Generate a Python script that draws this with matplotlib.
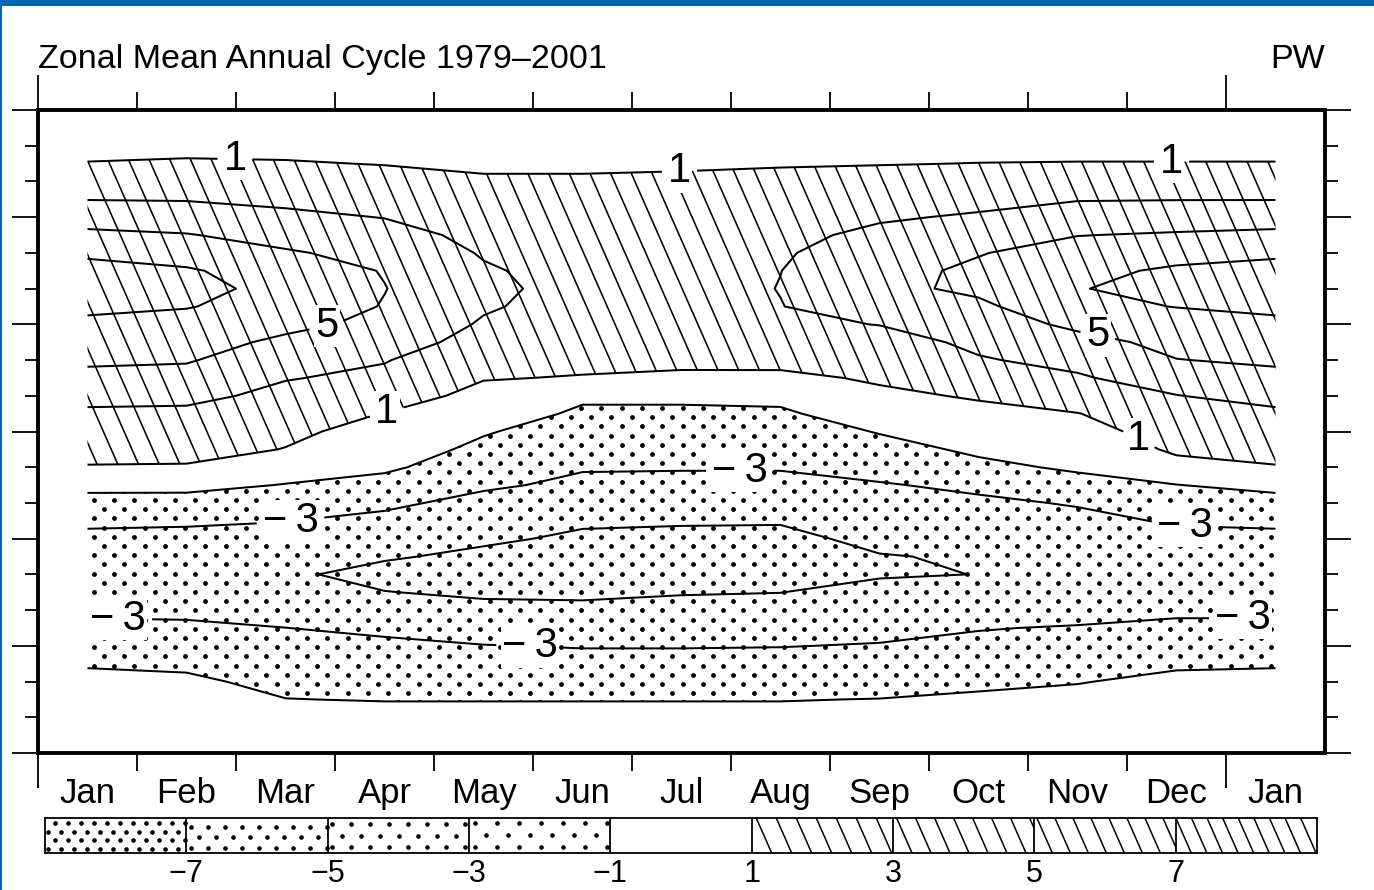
import numpy as np
import matplotlib
matplotlib.use("Agg")
import matplotlib.pyplot as plt
from matplotlib.patches import PathPatch, Rectangle
from matplotlib.collections import LineCollection

plt.rcParams['font.family'] = ['Liberation Sans', 'DejaVu Sans']
plt.rcParams['contour.negative_linestyle'] = 'solid'

# zonal mean transport (PW), mid-month columns, latitude 90N -> 90S every 5 deg
lats = np.arange(90, -91, -5)
jan = [0, 0.3, 0.6, 1.05, 2.0, 2.95, 4.2, 5.4, 6.6, 7.8, 8.2, 7.6, 6.4, 5.9, 5.3, 4.5, 3.7, 2.6, 2.0,
       1.6, 0.9, -0.3, -1.9, -2.6, -3.5, -4.0, -4.3, -4.1, -3.5, -2.4, -1.8, -1.1, -0.7, -0.4, -0.2, -0.1, 0]
feb = [0, 0.3, 0.65, 1.15, 2.1, 2.9, 3.95, 5.1, 6.2, 7.2, 7.5, 7.1, 6.3, 5.8, 5.15, 4.4, 3.5, 2.6, 2.0,
       1.6, 0.85, -0.3, -1.95, -2.7, -3.6, -4.1, -4.4, -4.2, -3.6, -2.5, -1.9, -1.2, -0.8, -0.45, -0.25, -0.1, 0]
mar = [0, 0.3, 0.6, 1.1, 1.9, 2.6, 3.4, 4.3, 5.2, 6.1, 6.5, 6.2, 5.5, 4.6, 3.9, 3.1, 2.5, 1.9, 1.35,
       0.95, 0.2, -1.1, -2.1, -2.95, -3.7, -4.3, -4.7, -4.6, -4.0, -2.98, -2.3, -1.7, -1.3, -0.98, -0.6, -0.3, 0]
apr = [0, 0.3, 0.6, 0.95, 1.5, 2.2, 2.95, 3.7, 4.4, 4.9, 5.05, 4.9, 4.5, 3.9, 3.1, 2.6, 1.9, 0.95, 0.4,
       -0.1, -0.7, -1.6, -2.6, -3.5, -4.1, -4.8, -5.6, -4.95, -4.3, -3.5, -2.5, -1.9, -1.5, -1.05, -0.6, -0.3, 0]
may = [0, 0.25, 0.5, 0.8, 1.15, 1.6, 2.1, 2.5, 2.85, 3.2, 3.4, 3.2, 2.8, 2.3, 1.7, 1.1, 0.45, -0.2, -0.85,
       -1.4, -2.0, -2.7, -3.6, -4.2, -4.7, -5.4, -5.8, -5.3, -4.5, -3.7, -2.95, -2.2, -1.6, -1.05, -0.6, -0.3, 0]
jun = [0, 0.25, 0.5, 0.8, 1.15, 1.5, 1.8, 2.05, 2.25, 2.35, 2.4, 2.3, 2.1, 1.8, 1.45, 0.9, -0.75, -1.25, -1.85,
       -2.4, -2.85, -3.4, -4.0, -4.75, -5.3, -5.9, -6.0, -5.5, -4.4, -3.6, -3.1, -2.4, -1.7, -1.05, -0.6, -0.3, 0]
jul = [0, 0.25, 0.5, 0.85, 1.2, 1.5, 1.75, 1.95, 2.1, 2.2, 2.2, 2.1, 1.95, 1.75, 1.35, 0.72, -0.6, -1.4, -1.95,
       -2.45, -2.9, -3.4, -4.0, -4.8, -5.5, -5.95, -6.0, -5.1, -4.5, -3.7, -3.1, -2.4, -1.7, -1.05, -0.6, -0.3, 0]
aug = [0, 0.3, 0.55, 0.9, 1.35, 1.8, 2.2, 2.55, 2.8, 2.98, 3.05, 2.95, 2.6, 2.1, 1.45, 0.65, -0.5, -1.3, -1.9,
       -2.4, -2.9, -3.4, -4.0, -4.85, -5.5, -5.85, -5.9, -5.02, -4.4, -3.7, -3.05, -2.4, -1.7, -1.05, -0.6, -0.3, 0]
sep = [0, 0.3, 0.6, 0.95, 1.5, 2.2, 2.8, 3.4, 4.0, 4.4, 4.5, 4.1, 3.05, 2.2, 1.7, 1.2, 0.7, 0.1, -0.9,
       -1.6, -2.3, -3.15, -3.6, -4.0, -4.5, -5.1, -5.15, -4.5, -4.0, -3.5, -2.9, -2.3, -1.6, -0.97, -0.6, -0.3, 0]
octo = [0, 0.3, 0.6, 1.02, 1.75, 2.5, 3.2, 4.0, 4.9, 5.35, 5.4, 4.6, 3.9, 3.4, 2.85, 2.1, 1.15, 0.6, -0.1,
        -0.7, -1.4, -2.6, -3.35, -3.9, -4.4, -4.8, -4.98, -4.7, -4.0, -3.1, -2.5, -1.8, -1.25, -0.8, -0.5, -0.25, 0]
nov = [0, 0.3, 0.6, 1.05, 2.0, 2.9, 3.9, 4.95, 5.8, 6.5, 6.9, 6.5, 5.45, 4.3, 3.5, 2.8, 2.0, 0.95, 0.4,
       -0.15, -0.75, -1.6, -2.85, -3.5, -3.9, -4.3, -4.5, -4.3, -3.8, -2.85, -2.1, -1.5, -1.05, -0.7, -0.4, -0.2, 0]
dec = [0, 0.3, 0.6, 1.05, 2.05, 2.95, 4.0, 5.2, 6.3, 7.3, 7.7, 7.05, 6.2, 5.6, 4.95, 3.9, 2.95, 2.2, 1.7,
       1.25, 0.5, -1.05, -1.9, -2.8, -3.5, -4.0, -4.3, -4.1, -3.5, -2.4, -1.8, -1.15, -0.75, -0.4, -0.2, -0.1, 0]

months = ['Jan', 'Feb', 'Mar', 'Apr', 'May', 'Jun', 'Jul', 'Aug', 'Sep', 'Oct', 'Nov', 'Dec', 'Jan']
line_levels = [-7, -5, -3, -1, 1, 3, 5, 7]
band_edges = [-9, -7, -5, -3, -1, 1, 3, 5, 7, 9]
cbar_ticks = [-7, -5, -3, -1, 1, 3, 5, 7]
# where the inline labels sit (month, latitude)
label_spots = [(1.99, 76.0), (6.48, 71.8), (11.45, 74.6), (3.51, 6.8), (11.08, -4.4),
               (2.90, 31.8), (10.70, 26.2),
               (2.55, -24.8), (7.09, -10.8), (11.59, -25.6), (0.81, -52.2), (4.97, -60.6), (12.17, -51.9)]


def minus(v):
    return f'{v:.0f}'.replace('-', '\u2212')


def minus_spaced(v):
    return f'{v:.0f}'.replace('-', '\u2212\u2009')


month_pos = np.arange(13) + 0.5
Z = np.column_stack([jan, feb, mar, apr, may, jun, jul, aug, sep, octo, nov, dec, jan])
X, Y = np.meshgrid(month_pos, lats)

W, H = 1374, 890
fig = plt.figure(figsize=(W / 100, H / 100), dpi=100)
ax = fig.add_axes([38 / W, 1 - 753 / H, 1287 / W, 643 / H])
ax.set_xlim(0, 13)
ax.set_ylim(-90, 90)

mx = 1287 / 13   # px per month
my = 643 / 180   # px per degree


def hatch_lines(x0, x1, y0, y1, step_px, mx, my):
    k = 2.27 * mx / my          # steep backslash lines
    span = (y1 - y0) / k
    segs = []
    for c in np.arange(x0 - span, x1 + step_px / mx, step_px / mx):
        segs.append([(c, y1), (c + span, y0)])
    return segs


def dot_grid(x0, x1, y0, y1, dx_px, dy_px, mx, my):
    px, py = [], []
    for i, yv in enumerate(np.arange(y0 + dy_px / my / 2, y1, dy_px / my)):
        xs = np.arange(x0 + (i % 2) * dx_px / mx / 2 + dx_px / mx / 4, x1, dx_px / mx)
        px.extend(xs)
        py.extend([yv] * len(xs))
    return np.array(px), np.array(py)


pos = ax.contourf(X, Y, Z, levels=[1, 50], colors='none')
neg = ax.contourf(X, Y, Z, levels=[-50, -1], colors='none')
pos_patch = PathPatch(pos.get_paths()[0], transform=ax.transData)
neg_patch = PathPatch(neg.get_paths()[0], transform=ax.transData)

hatch = LineCollection(hatch_lines(0, 13, -90, 90, 20.7, mx, my), colors='black',
                       linewidths=1.15, zorder=1)
ax.add_collection(hatch)
hatch.set_clip_path(pos_patch)

dx, dy = dot_grid(0, 13, -90, 90, 20.3, 9.2, mx, my)
dots = ax.scatter(dx, dy, s=12, c='black', linewidths=0, zorder=1)
dots.set_clip_path(neg_patch)

cl = ax.contour(X, Y, Z, levels=line_levels, colors='black', linewidths=1.45, zorder=2)
texts = ax.clabel(cl, manual=label_spots, fmt=minus_spaced,
                  fontsize=30, inline=True, inline_spacing=6)
for t in texts:
    t.set_rotation(0)
    t.set_bbox(dict(facecolor='white', edgecolor='none', pad=1))
    t.set_zorder(3)

for s in ax.spines.values():
    s.set_linewidth(2.8)
ax.set_xticks([0, 12])
ax.set_xticks(range(1, 12), minor=True)
ax.set_yticks(range(-90, 91, 30))
ax.set_yticks(range(-90, 91, 10), minor=True)
ax.tick_params(which='both', direction='out', top=True, right=True,
               labelbottom=False, labelleft=False, width=1.3, color='black')
ax.tick_params(axis='x', which='major', length=25)
ax.tick_params(axis='x', which='minor', length=13)
ax.tick_params(axis='y', which='major', length=19)
ax.tick_params(axis='y', which='minor', length=9.5)

sec = ax.secondary_xaxis('bottom')
sec.set_xticks(month_pos, months)
sec.tick_params(length=0, pad=17, labelsize=25)
sec.spines['bottom'].set_visible(False)

fig.text(38 / W, 1 - 68 / H, 'Zonal Mean Annual Cycle 1979\u20132001', fontsize=24.5, va='baseline')
fig.text(1325 / W, 1 - 68 / H, 'PW', fontsize=24.5, va='baseline', ha='right')

# colour bar with the same fills
cax = fig.add_axes([45 / W, 1 - 853 / H, 1272 / W, 35 / H])
cax.set_xlim(-9, 9)
cax.set_ylim(0, 1)
cmx = 1272 / 18
cmy = 35
dot_steps = [(13, 8.5), (17, 10.5), (19, 11.5), (22, 12)]
hatch_steps = [20, 19, 18, 15.6]
for i in range(4):
    lo, hi = band_edges[i], band_edges[i + 1]
    bx, by = dot_grid(lo, hi, 0, 1, dot_steps[i][0], dot_steps[i][1], cmx, cmy)
    cax.scatter(bx, by, s=11, c='black', linewidths=0)
for i in range(4):
    lo, hi = band_edges[5 + i], band_edges[6 + i]
    lc = LineCollection(hatch_lines(lo, hi, 0, 1, hatch_steps[i], cmx, cmy), colors='black',
                        linewidths=1.1)
    cax.add_collection(lc)
    lc.set_clip_path(Rectangle((lo, 0), hi - lo, 1, transform=cax.transData))
for b in band_edges[1:-1]:
    cax.axvline(b, color='black', linewidth=1.3)
for s in cax.spines.values():
    s.set_linewidth(1.3)
cax.set_yticks([])
cax.set_xticks(cbar_ticks, [minus(v) for v in cbar_ticks])
cax.tick_params(length=0, pad=4, labelsize=22)

# blue page border
fig.add_artist(Rectangle((0, 1 - 6 / H), 1, 6 / H, transform=fig.transFigure,
                         facecolor='#0866b0', edgecolor='none'))
fig.add_artist(Rectangle((0, 0), 2 / W, 1, transform=fig.transFigure,
                         facecolor='#0866b0', edgecolor='none'))

fig.savefig('out.png', dpi=100)
